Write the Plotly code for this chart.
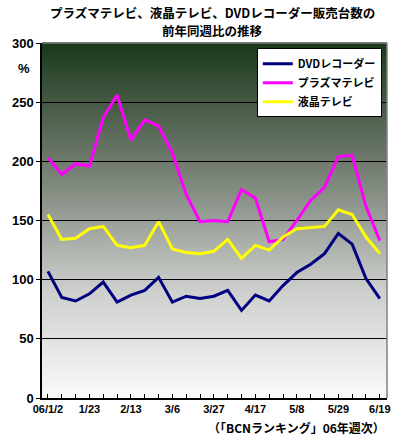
import plotly.graph_objects as go

weeks = ['1/2', '1/9', '1/16', '1/23', '1/30', '2/6', '2/13', '2/20', '2/27',
         '3/6', '3/13', '3/20', '3/27', '4/3', '4/10', '4/17', '4/24', '5/1',
         '5/8', '5/15', '5/22', '5/29', '6/5', '6/12', '6/19']
tick_text = ['06/1/2', '1/23', '2/13', '3/6', '3/27', '4/17', '5/8', '5/29', '6/19']

dvd = [107, 85, 82, 88, 98, 81, 87, 91, 102, 81, 86, 84, 86, 91, 74, 87, 82,
       95, 106, 113, 122, 139, 130, 101, 84]
plasma = [203, 189, 198, 196, 237, 256, 218, 235, 230, 207, 172, 149, 150, 149,
          176, 169, 132, 134, 150, 167, 178, 204, 205, 162, 133]
lcd = [155, 134, 135, 143, 145, 129, 127, 129, 149, 126, 123, 122, 124, 134,
       118, 129, 125, 136, 143, 144, 145, 159, 155, 136, 122]

series = [('DVDレコーダー', dvd, '#000080'),
          ('プラズマテレビ', plasma, '#ff00ff'),
          ('液晶テレビ', lcd, '#ffff00')]

jp = 'Noto Sans CJK JP'
num = 'Liberation Sans'

fig = go.Figure()
for name, vals, color in series:
    fig.add_trace(go.Scatter(x=weeks, y=vals, mode='lines', name=name,
                             line=dict(color=color, width=3)))

# gradient background (dark green at top -> white at bottom)
stops = [(0.0, (26, 56, 26)), (0.35, (115, 125, 113)), (0.7, (205, 207, 204)), (1.0, (250, 250, 250))]
def grad(t):
    for (t0, c0), (t1, c1) in zip(stops, stops[1:]):
        if t <= t1:
            f = (t - t0) / (t1 - t0)
            return 'rgb(%d,%d,%d)' % tuple(round(a + (b - a) * f) for a, b in zip(c0, c1))
    return 'rgb(250,250,250)'

n = 90
shapes = []
for k in range(n):
    shapes.append(dict(type='rect', xref='paper', yref='paper', x0=0, x1=1,
                       y0=1 - (k + 1) / n, y1=1 - k / n + 0.002,
                       fillcolor=grad((k + 0.5) / n), line=dict(width=0), layer='below'))
# gray frame top/right
shapes.append(dict(type='line', xref='paper', yref='paper', x0=0, x1=1, y0=1, y1=1,
                   line=dict(color='#808080', width=1.5)))
shapes.append(dict(type='line', xref='paper', yref='paper', x0=1, x1=1, y0=0, y1=1,
                   line=dict(color='#808080', width=1.5)))

title_font = dict(family=jp, size=12.5, color='black')

fig.update_layout(
    width=402, height=442,
    margin=dict(l=41, r=12, t=43, b=44),
    paper_bgcolor='white', plot_bgcolor='white',
    shapes=shapes,
    showlegend=True,
    legend=dict(x=0.985, y=0.985, xanchor='right', yanchor='top',
                bgcolor='white', bordercolor='black', borderwidth=1,
                font=dict(family=jp, size=11, color='black', weight='bold'),
                tracegroupgap=0, itemwidth=30),
    annotations=[
        dict(text='<b>プラズマテレビ、液晶テレビ、DVDレコーダー販売台数の</b>',
             xref='paper', yref='paper', x=0.493, y=1, yshift=31, yanchor='middle',
             showarrow=False, font=title_font),
        dict(text='<b>前年同週比の推移</b>',
             xref='paper', yref='paper', x=0.493, y=1, yshift=13, yanchor='middle',
             showarrow=False, font=title_font),
        dict(text='<b>%</b>', xref='paper', yref='paper', x=0, xshift=-10, y=0.954,
             xanchor='right', showarrow=False, font=dict(family=num, size=13, color='black')),
        dict(text='<b>（「BCNランキング」06年週次）</b>', xref='paper', yref='paper',
             x=1, y=0, yshift=-29, xanchor='right', yanchor='middle', showarrow=False,
             font=dict(family=jp, size=12, color='black')),
    ],
)

fig.update_xaxes(type='category', range=[-0.43, 24.52],
                 tickvals=weeks,
                 ticktext=[tick_text[i // 3] if i % 3 == 0 else '' for i in range(len(weeks))],
                 ticks='inside', ticklen=4, tickcolor='black',
                 showline=True, linecolor='black', linewidth=1.5,
                 showgrid=False, zeroline=False,
                 tickfont=dict(family=num, size=11, color='black', weight='bold'))
fig.update_yaxes(range=[0, 300], dtick=50, showgrid=True, gridcolor='black', gridwidth=1,
                 ticks='outside', ticklen=4, tickcolor='black',
                 showline=True, linecolor='black', linewidth=1.5, zeroline=False,
                 tickfont=dict(family=num, size=13, color='black', weight='bold'))

fig.write_html('out.html', config={'displayModeBar': False},
               post_script="document.body.style.margin='0';")
